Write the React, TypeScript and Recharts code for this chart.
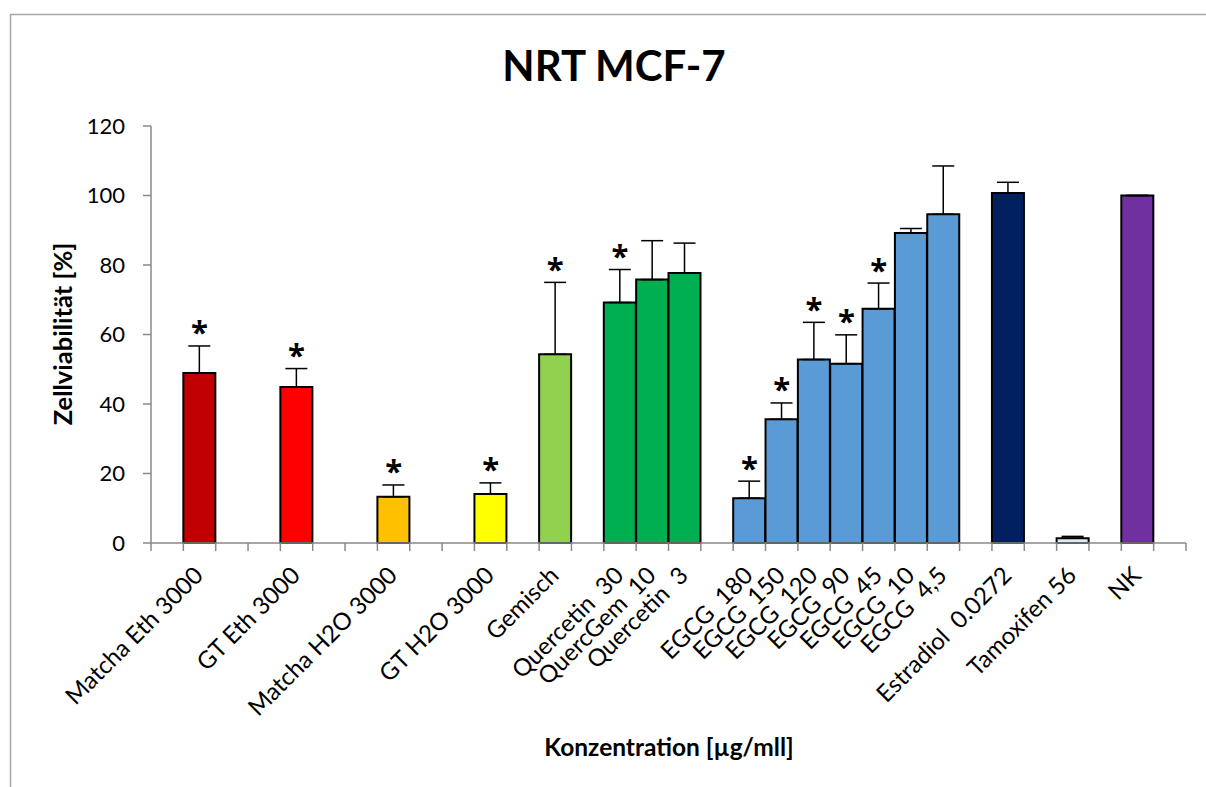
import React from 'react';
import { ComposedChart, Bar, XAxis, YAxis, ErrorBar, Cell, Line } from 'recharts';

const categories: string[] = [
  '', 'Matcha Eth 3000', '', '', 'GT Eth 3000', '', '', 'Matcha H2O 3000', '', '', 'GT H2O 3000', '',
  'Gemisch', '', 'Quercetin  30', 'QuercGem  10', 'Quercetin  3', '',
  'EGCG  180', 'EGCG  150', 'EGCG  120', 'EGCG  90', 'EGCG  45', 'EGCG  10', 'EGCG  4,5', '',
  'Estradiol  0.0272', '', 'Tamoxifen 56', '', 'NK', '',
];

const values: (number | null)[] = [
  null, 48.9, null, null, 44.9, null, null, 13.3, null, null, 14.1, null,
  54.3, null, 69.2, 75.8, 77.7, null,
  12.9, 35.6, 52.8, 51.6, 67.4, 89.2, 94.6, null,
  100.7, null, 1.4, null, 100.0, null,
];

const errors: (number | null)[] = [
  null, 7.8, null, null, 5.3, null, null, 3.4, null, null, 3.2, null,
  20.7, null, 9.5, 11.2, 8.6, null,
  4.9, 4.7, 10.7, 8.3, 7.4, 1.3, 13.9, null,
  3.1, null, 0.5, null, 0, null,
];

const significant: boolean[] = [
  false, true, false, false, true, false, false, true, false, false, true, false,
  true, false, true, false, false, false,
  true, true, true, true, true, false, false, false,
  false, false, false, false, false, false,
];

const yTicks = [0, 20, 40, 60, 80, 100, 120];

const barColors: string[] = [
  '', '#C00000', '', '', '#FF0000', '', '', '#FFC000', '', '', '#FFFF00', '',
  '#92D050', '', '#00B050', '#00B050', '#00B050', '',
  '#5B9BD5', '#5B9BD5', '#5B9BD5', '#5B9BD5', '#5B9BD5', '#5B9BD5', '#5B9BD5', '',
  '#002060', '', '#DEEBF7', '', '#7030A0', '',
];

const data = categories.map((label, i) => ({
  key: 'c' + i,
  label,
  value: values[i],
  err: values[i] != null && errors[i] != null ? [0, errors[i] as number] : undefined,
  star: significant[i] && values[i] != null ? (values[i] as number) + (errors[i] || 0) : null,
}));

const FONT = 'Lato, "Open Sans", sans-serif';
const AXIS_GRAY = '#898989';

const CatTick = (props: any) => {
  const { x, y, payload, index, width } = props;
  const n = categories.length;
  const half = payload && payload.offset ? payload.offset : width / n / 2;
  const idx = payload && payload.index != null ? payload.index : index;
  const label = categories[idx];
  return (
    <g>
      <line x1={x - half} x2={x - half} y1={y} y2={y + 8} stroke={AXIS_GRAY} strokeWidth={1.5} />
      {idx === n - 1 && <line x1={x + half} x2={x + half} y1={y} y2={y + 8} stroke={AXIS_GRAY} strokeWidth={1.5} />}
      {label ? (
        <text
          transform={`translate(${x + 5},${y + 34}) rotate(-45)`}
          textAnchor="end"
          fontSize={24}
          fontFamily={FONT}
          fill="#000"
          style={{ whiteSpace: 'pre' }}
        >
          {label}
        </text>
      ) : null}
    </g>
  );
};

const StarDot = (props: any) => {
  const { cx, cy, index } = props;
  if (cy == null || cx == null || isNaN(cy)) return <g key={'s' + index} />;
  return (
    <text key={'s' + index} x={cx} y={cy - 2.5} textAnchor="middle" fontSize={31} fontWeight="bold" fontFamily='"Open Sans", sans-serif' fill="#000">
      *
    </text>
  );
};

export default function App() {
  return (
    <div style={{ position: 'absolute', left: 0, top: 0, width: 1206, height: 787, background: '#fff', overflow: 'hidden' }}>
      <ComposedChart
        width={1206}
        height={787}
        data={data}
        margin={{ top: 126, right: 20, bottom: 0, left: 0 }}
        barCategoryGap={0}
        barGap={0}
      >
        <XAxis
          dataKey="key"
          interval={0}
          height={244}
          tickSize={0}
          tickMargin={0}
          tickLine={false}
          axisLine={{ stroke: AXIS_GRAY, strokeWidth: 1.5 }}
          tick={<CatTick />}
        />
        <YAxis
          type="number"
          domain={[0, 120]}
          ticks={yTicks}
          width={151}
          tickSize={8}
          tickMargin={18}
          axisLine={{ stroke: AXIS_GRAY, strokeWidth: 1.5 }}
          tickLine={{ stroke: AXIS_GRAY, strokeWidth: 1.5 }}
          tick={{ fill: '#000', fontSize: 22, fontFamily: FONT }}
        />
        <Bar dataKey="value" stroke="#000" strokeWidth={2} isAnimationActive={false}>
          {data.map((d, i) => (
            <Cell key={d.key} fill={barColors[i] || 'none'} />
          ))}
          <ErrorBar dataKey="err" width={11} stroke="#000" strokeWidth={1.5} direction="y" />
        </Bar>
        <Line
          dataKey="star"
          stroke="none"
          isAnimationActive={false}
          dot={<StarDot />}
          activeDot={false}
          legendType="none"
        />
      </ComposedChart>
      <svg width={1206} height={787} style={{ position: 'absolute', left: 0, top: 0, pointerEvents: 'none' }}>
        <rect x={10.5} y={14.5} width={1210} height={800} fill="none" stroke="#A6A6A6" strokeWidth={1.5} />
        <text x={614} y={81} textAnchor="middle" fontSize={42} fontWeight="bold" fontFamily={FONT} fill="#000">
          NRT MCF-7
        </text>
        <text x={669} y={756} textAnchor="middle" fontSize={24.5} fontWeight="bold" fontFamily={FONT} fill="#000">
          Konzentration [µg/mll]
        </text>
        <text
          transform="translate(72,334) rotate(-90)"
          textAnchor="middle"
          fontSize={25.5}
          fontWeight="bold"
          fontFamily={FONT}
          fill="#000"
        >
          Zellviabilität [%]
        </text>
      </svg>
    </div>
  );
}
